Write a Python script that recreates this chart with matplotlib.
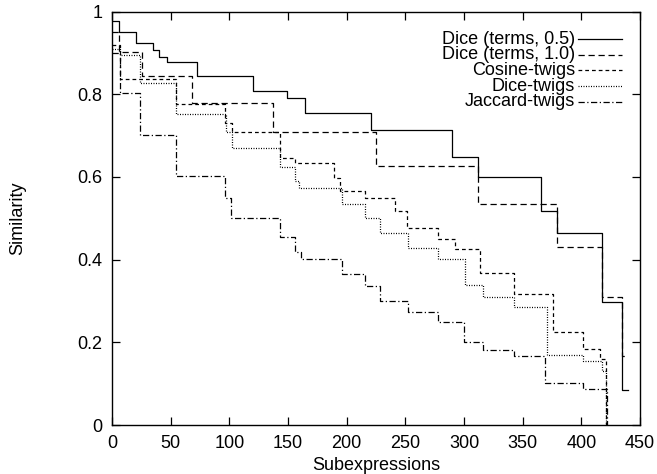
import matplotlib
matplotlib.use('Agg')
import matplotlib.pyplot as plt

plt.rcParams['font.family'] = ['Liberation Sans', 'DejaVu Sans']

# step curves: x = start of each level, last entry = end of the curve
dice05_x = [0, 6, 20.5, 35, 40, 46.6, 72.7, 120.5, 149, 164.5, 220.5, 290, 311.7, 366, 379, 417.5, 435, 440]
dice05_y = [0.978, 0.951, 0.923, 0.907, 0.891, 0.877, 0.844, 0.808, 0.790, 0.754, 0.713, 0.647, 0.600, 0.517, 0.465, 0.297, 0.085, 0.085]

dice10_x = [0, 6, 25.3, 68, 137, 225, 311.7, 379, 417.4, 435, 440]
dice10_y = [0.95, 0.901, 0.844, 0.778, 0.708, 0.626, 0.534, 0.431, 0.310, 0.167, 0.167]

cos_x = [0, 7, 54.5, 96.3, 102, 143, 156, 189, 194, 215.6, 241, 251, 278, 292, 313.6, 343, 376, 401.5, 416, 421, 421]
cos_y = [0.92, 0.837, 0.776, 0.73, 0.709, 0.645, 0.633, 0.597, 0.567, 0.548, 0.518, 0.476, 0.449, 0.425, 0.367, 0.316, 0.226, 0.183, 0.16, 0.0, 0.0]

dtw_x = [0, 7, 24, 54.5, 97, 102, 143, 156, 159, 195.7, 215.6, 228.4, 252.6, 278, 301, 316, 343, 370.5, 401.5, 417.4, 421, 421]
dtw_y = [0.91, 0.895, 0.826, 0.751, 0.709, 0.669, 0.625, 0.59, 0.572, 0.535, 0.500, 0.464, 0.429, 0.401, 0.339, 0.309, 0.286, 0.169, 0.155, 0.13, 0.0, 0.0]

jac_x = [0, 7, 24, 54.5, 96.3, 101, 143, 156, 161, 195.7, 215.6, 228.4, 252.6, 278, 300, 316, 343, 369, 401.5, 421.5, 421.5]
jac_y = [0.90, 0.802, 0.701, 0.602, 0.548, 0.501, 0.455, 0.419, 0.401, 0.364, 0.335, 0.301, 0.273, 0.25, 0.2, 0.181, 0.167, 0.101, 0.086, 0.0, 0.0]

labels = ['Dice (terms, 0.5)', 'Dice (terms, 1.0)', 'Cosine-twigs', 'Dice-twigs', 'Jaccard-twigs']
xticks = [0, 50, 100, 150, 200, 250, 300, 350, 400, 450]
yticks = [0, 0.2, 0.4, 0.6, 0.8, 1]
ytick_labels = ['0', '0.2', '0.4', '0.6', '0.8', '1']

series = [(dice05_x, dice05_y), (dice10_x, dice10_y), (cos_x, cos_y), (dtw_x, dtw_y), (jac_x, jac_y)]
dashes = [(), (5, 3), (3, 2.4), (0.8, 1.2), (5, 2, 1, 2)]

fig = plt.figure(figsize=(6.57, 4.74), dpi=100)
ax = fig.add_axes([112/657, 49/474, 528/657, 413.5/474])

for (xs, ys), d in zip(series, dashes):
    ln, = ax.plot(xs, ys, drawstyle='steps-post', color='black', lw=0.9)
    if d:
        ln.set_dashes(d)

# key in the upper right: right-aligned text, sample line after it
for i, (lab, d) in enumerate(zip(labels, dashes)):
    yy = 0.933 - i * 0.0378
    ax.text(0.877, yy, lab, transform=ax.transAxes, ha='right', va='center', fontsize=13)
    ln, = ax.plot([0.883, 0.966], [yy, yy], transform=ax.transAxes, color='black', lw=0.9)
    if d:
        ln.set_dashes(d)

ax.set_xlim(0, 450)
ax.set_ylim(0, 1)
ax.set_xticks(xticks)
ax.set_yticks(yticks)
ax.set_yticklabels(ytick_labels)
ax.tick_params(direction='in', length=6, width=0.9, top=True, right=True, labelsize=13, pad=7)
for sp in ax.spines.values():
    sp.set_linewidth(1.0)
ax.set_xlabel('Subexpressions', fontsize=13, labelpad=4)
ax.set_ylabel('Similarity', fontsize=13, labelpad=37)

fig.savefig('out.png', dpi=100)
